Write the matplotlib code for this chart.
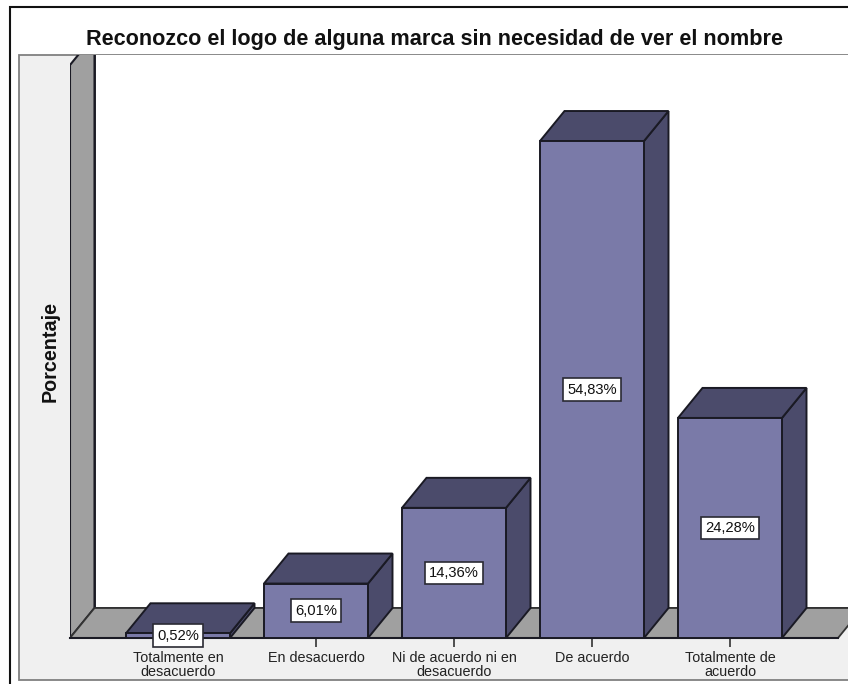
import matplotlib
matplotlib.use('Agg')
import matplotlib.pyplot as plt
from matplotlib.patches import Polygon, Rectangle

plt.rcParams['font.family'] = ['Liberation Sans', 'DejaVu Sans']

categories = ['Totalmente en\ndesacuerdo', 'En desacuerdo', 'Ni de acuerdo ni en\ndesacuerdo',
              'De acuerdo', 'Totalmente de\nacuerdo']
values = [0.52, 6.01, 14.36, 54.83, 24.28]
labels = ['0,52%', '6,01%', '14,36%', '54,83%', '24,28%']

W, H = 848, 684
FRONT = '#7a7aa8'
DARK = '#4b4b6b'
WALL = '#a0a0a0'
PANEL = '#f0f0f0'
EDGE = '#1a1a24'

fig = plt.figure(figsize=(W / 100, H / 100), dpi=100, facecolor='white')

# outer black border and grey panel, in figure fractions
def fig_rect(x0, y0, x1, y1, **kw):
    fig.patches.append(Rectangle((x0 / W, 1 - y1 / H), (x1 - x0) / W, (y1 - y0) / H,
                                 transform=fig.transFigure, figure=fig, zorder=-1, **kw))

fig_rect(10, 7, W + 10, H + 10, facecolor='white', edgecolor='#111111', lw=1.5)
fig_rect(19, 55, W + 10, 680, facecolor=PANEL, edgecolor='#808080', lw=1.3)

ax = fig.add_axes([70 / W, 1 - 638 / H, (W - 70) / W, (638 - 55) / H])
ax.set_facecolor('none')
for s in ax.spines.values():
    s.set_visible(False)

# scales: one category = 138 px, one percent = 9.064 px
x_left = -108 / 138
x_right = x_left + (W - 70) / 138
y_top = (638 - 55) / 9.064
ax.set_xlim(x_left, x_right)
ax.set_ylim(0, y_top)

bar_w = 104 / 138
dx = 24.5 / 138
dy = 30 / 9.064
wall_top = (638 - 65) / 9.064
floor_right = x_left + (838 - 70) / 138

# back wall, side wall, floor
ax.add_patch(Rectangle((x_left + dx, dy), x_right - x_left, y_top, facecolor='white', edgecolor=EDGE, lw=1.3))
ax.add_patch(Polygon([(x_left, 0), (x_left, wall_top), (x_left + dx, wall_top + dy), (x_left + dx, dy)],
                     facecolor=WALL, edgecolor=EDGE, lw=1.5))
ax.add_patch(Polygon([(x_left, 0), (x_left + dx, dy), (floor_right + dx, dy), (floor_right, 0)],
                     facecolor=WALL, edgecolor='#333333', lw=1.3))
ax.plot([x_left, floor_right], [0, 0], color=EDGE, lw=1.5, clip_on=False)

# bars with top and side faces
for i, v in enumerate(values):
    l = i - bar_w / 2
    r = i + bar_w / 2
    ax.add_patch(Polygon([(r, 0), (r + dx, dy), (r + dx, v + dy), (r, v)],
                         facecolor=DARK, edgecolor=EDGE, lw=1.4, joinstyle='miter', zorder=3, clip_on=False))
    ax.add_patch(Polygon([(l, v), (l + dx, v + dy), (r + dx, v + dy), (r, v)],
                         facecolor=DARK, edgecolor=EDGE, lw=1.4, joinstyle='miter', zorder=3, clip_on=False))
    ax.bar(i, v, width=bar_w, color=FRONT, edgecolor=EDGE, lw=1.4, zorder=4, clip_on=False)
    ax.text(i, v / 2, labels[i], ha='center', va='center', fontsize=10.6, color='#111111', zorder=5,
            bbox=dict(boxstyle='square,pad=0.3', facecolor='white', edgecolor='#2a2a33', lw=1.2))

ax.set_xticks(range(len(categories)))
ax.set_xticklabels(categories, fontsize=10.4, color='#222222', linespacing=0.98)
ax.set_yticks([])
ax.tick_params(axis='x', length=6.5, width=1.2, color='#333333', pad=3.2)

fig.text(435 / W, 1 - 39 / H, 'Reconozco el logo de alguna marca sin necesidad de ver el nombre',
         ha='center', va='center', fontsize=15.6, fontweight='bold', color='#111111')
fig.text(50 / W, 1 - 352 / H, 'Porcentaje', rotation=90, ha='center', va='center',
         fontsize=14.2, fontweight='bold', color='#111111')

fig.savefig('out.png', dpi=100)
